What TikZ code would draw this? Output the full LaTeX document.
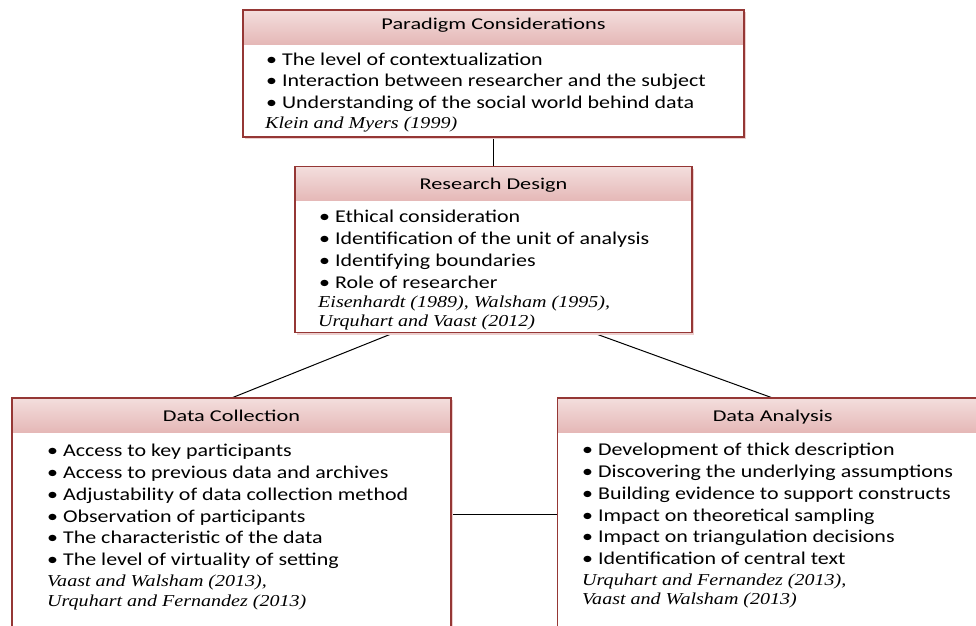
\documentclass[tikz,border=0pt]{standalone}
\usepackage{fontspec}
\usetikzlibrary{calc}
\newfontfamily\bodyfont{Carlito}[FakeStretch=1.22]
\newfontfamily\headfont{Carlito}[FakeStretch=1.35]
\newfontfamily\reffont{Liberation Serif}[FakeStretch=1.2]
\definecolor{bordc}{RGB}{149,55,53}
\definecolor{hdtop}{RGB}{243,222,221}
\definecolor{hdbot}{RGB}{229,184,183}
\definecolor{shadc}{RGB}{236,206,205}
\tikzset{
  boxbody/.style={rectangle, inner sep=0pt, outer sep=0pt, fill=white, anchor=north west},
  headband/.style={rectangle, inner sep=0pt, outer sep=0pt, anchor=north, minimum height=34, top color=hdtop, bottom color=hdbot},
  boxborder/.style={draw=bordc, line width=1.3pt},
  boxshadow/.style={fill=shadc},
  headtext/.style={anchor=base, inner sep=0pt, font=\headfont\fontsize{16.5}{19}\selectfont},
  itemtext/.style={anchor=base west, inner sep=0pt, font=\bodyfont\fontsize{18}{21}\selectfont},
  reftext/.style={anchor=base west, inner sep=0pt, font=\reffont\itshape\fontsize{16.7}{20}\selectfont},
  conn/.style={draw=black, line width=1pt}
}
\begin{document}
\begin{tikzpicture}[x=1pt,y=1pt]
\useasboundingbox (0,0) rectangle (976,-625);
\clip (0,0) rectangle (976,-625);
% box geometry
\node[boxbody, minimum width=501, minimum height=127] (pc) at (243,-10) {};
\node[boxbody, minimum width=397, minimum height=166] (rd) at (295,-166.7) {};
\node[boxbody, minimum width=439, minimum height=260] (dc) at (12,-398) {};
\node[boxbody, minimum width=430, minimum height=260] (da) at (557.7,-398) {};
% connectors
\coordinate (mid) at (504,-514);
\draw[conn] (pc.south) -- (rd.north);
\draw[conn] ($(rd.south west)!0.25!(rd.south east)$) -- (dc.north);
\draw[conn] ($(rd.south west)!0.75!(rd.south east)$) -- (da.north);
\draw[conn] (dc.east |- mid) -- (da.west |- mid);
% boxes
\foreach \b in {pc,rd,dc,da}{
  \fill[boxshadow] ($(\b.north west)+(1.8,-1.8)$) rectangle ($(\b.south east)+(1.8,-1.8)$);
  \fill[white] (\b.north west) rectangle (\b.south east);
  \path let \p1=($(\b.north east)-(\b.north west)$) in
    node[headband, minimum width=\x1] (\b h) at (\b.north) {};
  \draw[boxborder] (\b.north west) rectangle (\b.south east);
}
% headers
\node[headtext] (pct) at ($(pc.north)+(0,-19.3)$) {Paradigm Considerations};
\node[headtext] (rdt) at ($(rd.north)+(0,-22.6)$) {Research Design};
\node[headtext] (dct) at ($(dc.north)+(0,-23)$) {Data Collection};
\node[headtext] (dat) at ($(da.north)+(0,-23)$) {Data Analysis};
% Paradigm considerations
\foreach \t [count=\i] in {The level of contextualization,
  Interaction between researcher and the subject,
  Understanding of the social world behind data}
  \node[itemtext] (pc\i) at (266,{-65-21.9*(\i-1)}) {\textbullet\ \t};
\node[reftext] (pcr1) at (265,-128.5) {Klein and Myers (1999)};
% Research design
\foreach \t [count=\i] in {Ethical consideration,
  Identification of the unit of analysis,
  Identifying boundaries,
  Role of researcher}
  \node[itemtext] (rd\i) at (319,{-222.3-21.9*(\i-1)}) {\textbullet\ \t};
\node[reftext] (rdr1) at (318,-307.5) {Eisenhardt (1989), Walsham (1995),};
\node[reftext] (rdr2) at (318,-326) {Urquhart and Vaast (2012)};
% Data collection
\foreach \t [count=\i] in {Access to key participants,
  Access to previous data and archives,
  Adjustability of data collection method,
  Observation of participants,
  The characteristic of the data,
  The level of virtuality of setting}
  \node[itemtext] (dc\i) at (47,{-456.7-21.8*(\i-1)}) {\textbullet\ \t};
\node[reftext] (dcr1) at (47,-586) {Vaast and Walsham (2013),};
\node[reftext] (dcr2) at (47,-606.5) {Urquhart and Fernandez (2013)};
% Data analysis
\foreach \t [count=\i] in {Development of thick description,
  Discovering the underlying assumptions,
  Building evidence to support constructs,
  Impact on theoretical sampling,
  Impact on triangulation decisions,
  Identification of central text}
  \node[itemtext] (da\i) at (582,{-455.7-21.8*(\i-1)}) {\textbullet\ \t};
\node[reftext] (dar1) at (582,-585) {Urquhart and Fernandez (2013),};
\node[reftext] (dar2) at (582,-604.5) {Vaast and Walsham (2013)};
\end{tikzpicture}
\end{document}
